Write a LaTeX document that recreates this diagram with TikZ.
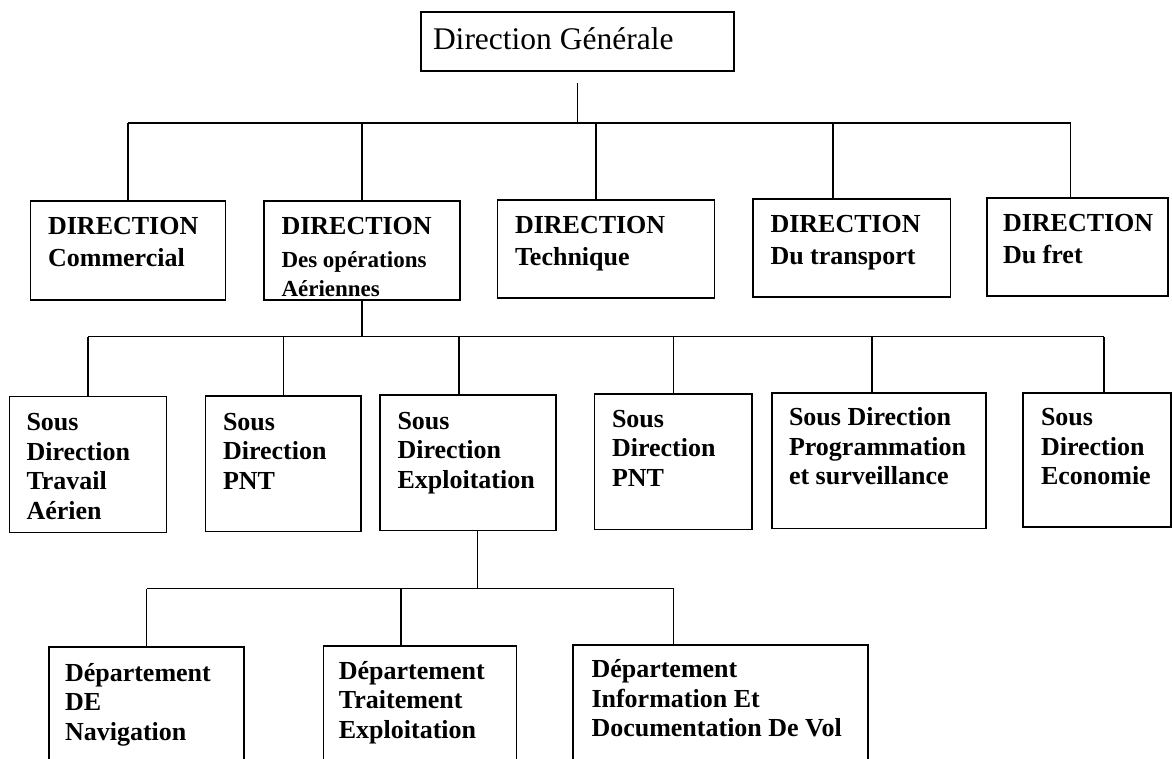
\documentclass[tikz,border=0pt]{standalone}
\usepackage{fontspec}
\setmainfont{Liberation Serif}
\newcommand{\bxt}[5]{\begin{minipage}[t][#2][t]{#1}\setlength{\parindent}{0pt}\leftskip=#3\relax\vspace*{\dimexpr #4-\ht\strutbox\relax}\strut #5\end{minipage}}
\begin{document}
\begin{tikzpicture}[x=1pt,y=-1pt,
  box/.style={draw, line width=1.7pt, inner sep=0pt, outer sep=0pt, anchor=north west},
  lvone/.style={box, font=\bfseries\fontsize{26}{32}\selectfont},
  lvtwo/.style={box, font=\bfseries\fontsize{26}{29.5}\selectfont},
  conn/.style={line width=1.5pt}]
\useasboundingbox (0,0) rectangle (1172,759);
\fill[white] (0,0) rectangle (1172,759);
\clip (0,0) rectangle (1172,759);

% top
\node[box, font=\fontsize{31.5}{35}\selectfont] (dg) at (421,12) {\bxt{313pt}{59pt}{12pt}{37.5pt}{Direction Générale}};

% level 1
\node[lvone] (com)   at (30.6,201)  {\bxt{195pt}{99pt}{17.5pt}{34pt}{DIRECTION\\Commercial}};
\node[lvone] (ops)   at (264,201)   {\bxt{196pt}{99pt}{17.5pt}{34pt}{DIRECTION\\[1pt]{\fontsize{23}{29}\selectfont Des opérations\\[-3pt]Aériennes}}};
\node[lvone] (tech)  at (497.5,200) {\bxt{217pt}{98pt}{17.5pt}{34pt}{DIRECTION\\Technique}};
\node[lvone] (trans) at (753,199)   {\bxt{197.5pt}{98pt}{17.5pt}{34pt}{DIRECTION\\Du transport}};
\node[lvone] (fret)  at (987,198)   {\bxt{181pt}{98pt}{16pt}{34pt}{DIRECTION\\Du fret}};

% level 2
\node[lvtwo] (trav) at (9.5,396.5)  {\bxt{157pt}{136pt}{17pt}{34pt}{Sous\\Direction\\Travail\\Aérien}};
\node[lvtwo] (pnt1) at (205.5,396)  {\bxt{155.5pt}{135.5pt}{17.5pt}{34pt}{Sous\\Direction\\PNT}};
\node[lvtwo] (expl) at (380,395)    {\bxt{176pt}{135.5pt}{17.5pt}{34pt}{Sous\\Direction\\Exploitation}};
\node[lvtwo] (pnt2) at (594.5,394)  {\bxt{157.5pt}{135.5pt}{17.5pt}{33pt}{Sous\\Direction\\PNT}};
\node[lvtwo] (prog) at (772,393)    {\bxt{214pt}{135.5pt}{17pt}{32.5pt}{Sous Direction\\Programmation\\et surveillance}};
\node[lvtwo] (eco)  at (1023,393)   {\bxt{148pt}{134pt}{18pt}{32.5pt}{Sous\\Direction\\Economie}};

% level 3
\node[lvtwo] (nav)   at (49,647)    {\bxt{195pt}{130pt}{16pt}{34pt}{Département\\DE\\Navigation}};
\node[lvtwo] (trait) at (323.4,646) {\bxt{193pt}{130pt}{15.5pt}{33pt}{Département\\Traitement\\Exploitation}};
\node[lvtwo] (doc)   at (573,645)   {\bxt{295pt}{130pt}{18.5pt}{32.5pt}{Département\\Information Et\\Documentation De Vol}};

% bus coordinates
\coordinate (b1) at (576,123);
\coordinate (b2) at (362,336.5);
\coordinate (b3) at (477.6,588.5);

% top -> level 1
\draw[conn, shorten <=12pt] (dg.south) -- (dg.south |- b1);
\draw[conn] (com.north |- b1) -- ([xshift=-7pt]fret.north |- b1);
\draw[conn] (com.north) -- (com.north |- b1);
\draw[conn] (ops.north) -- (ops.north |- b1);
\draw[conn] ([xshift=-10pt]tech.north) -- ([xshift=-10pt]tech.north |- b1);
\draw[conn] ([xshift=-19pt]trans.north) -- ([xshift=-19pt]trans.north |- b1);
\draw[conn] ([xshift=-7pt]fret.north) -- ([xshift=-7pt]fret.north |- b1);

% ops -> level 2
\draw[conn] (ops.south) -- (ops.south |- b2);
\draw[conn] (trav.north |- b2) -- ([xshift=7pt]eco.north |- b2);
\draw[conn] (trav.north) -- (trav.north |- b2);
\draw[conn] (pnt1.north) -- (pnt1.north |- b2);
\draw[conn] ([xshift=-9pt]expl.north) -- ([xshift=-9pt]expl.north |- b2);
\draw[conn] (pnt2.north) -- (pnt2.north |- b2);
\draw[conn] ([xshift=-7pt]prog.north) -- ([xshift=-7pt]prog.north |- b2);
\draw[conn] ([xshift=7pt]eco.north) -- ([xshift=7pt]eco.north |- b2);

% expl -> level 3
\draw[conn] ([xshift=9.6pt]expl.south) -- ([xshift=9.6pt]expl.south |- b3);
\draw[conn] (nav.north |- b3) -- ([xshift=-47pt]doc.north |- b3);
\draw[conn] (nav.north) -- (nav.north |- b3);
\draw[conn] ([xshift=-19pt]trait.north) -- ([xshift=-19pt]trait.north |- b3);
\draw[conn] ([xshift=-47pt]doc.north) -- ([xshift=-47pt]doc.north |- b3);
\end{tikzpicture}
\end{document}
